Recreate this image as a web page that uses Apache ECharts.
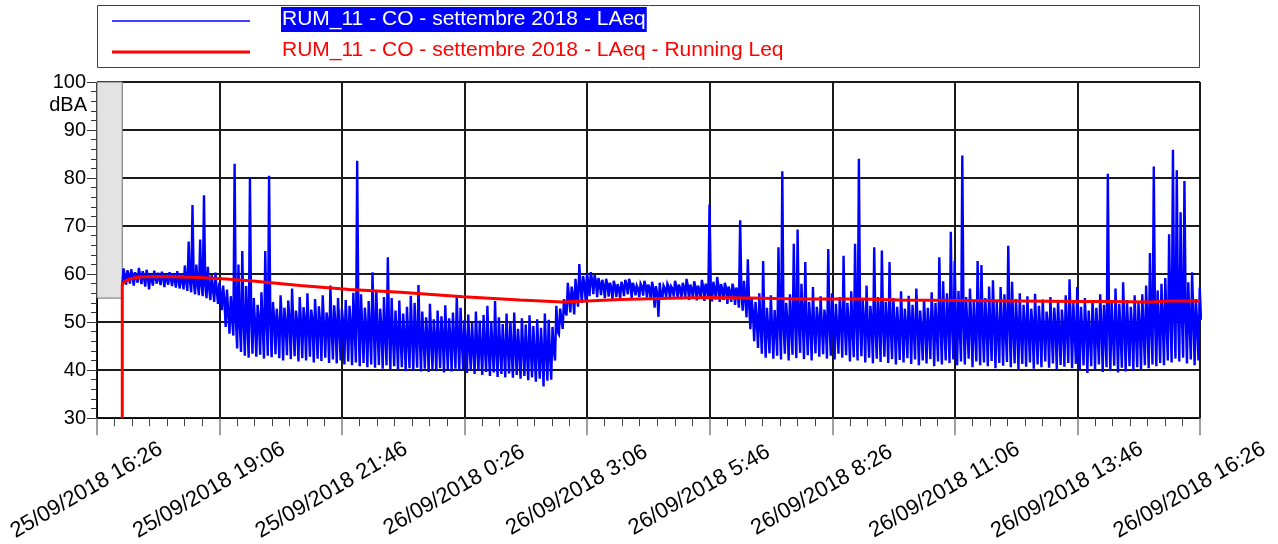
<!DOCTYPE html>
<html><head><meta charset="utf-8">
<script src="https://cdn.jsdelivr.net/npm/echarts@6/dist/echarts.min.js"></script>
<style>html,body{margin:0;padding:0;background:#fff}#c{width:1278px;height:544px}</style>
</head><body><div id="c"></div>
<script>
// ---- tick labels ----
const xTickLabels = ['25/09/2018 16:26','25/09/2018 19:06','25/09/2018 21:46','26/09/2018 0:26','26/09/2018 3:06',
  '26/09/2018 5:46','26/09/2018 8:26','26/09/2018 11:06','26/09/2018 13:46','26/09/2018 16:26'];
const seriesNames = ['RUM_11 - CO - settembre 2018 - LAeq', 'RUM_11 - CO - settembre 2018 - LAeq - Running Leq'];
const yUnit = 'dBA';

// ---- LAeq (minutes after 25/09 16:26, 5-minute buckets:
//      bucket minimum, bucket peak, top of the dense core) ----
const laeqStartMinute = 33;
const laeqStepMinutes = 5;
const laeqLow = [
 57.5,57.8,58.0,57.6,58.2,57.9,57.4,56.8,57.6,58.0,57.7,57.3,57.8,57.5,57.2,
 57.0,56.8,56.5,56.2,55.8,55.6,55.4,55.0,54.6,54.2,53.8,52.5,49.0,47.6,47.2,44.5,
 43.8,43.0,42.6,43.4,42.8,43.2,42.4,43.0,42.7,43.3,42.5,42.0,43.1,42.3,42.9,41.8,42.5,42.0,42.8,41.6,
 42.4,41.9,42.6,41.5,42.2,41.4,42.0,41.2,41.8,41.0,41.6,40.8,41.5,40.6,41.2,40.5,41.1,40.3,41.0,40.2,
 40.8,40.0,40.6,39.8,40.4,39.9,40.5,39.7,40.3,39.6,40.2,39.8,40.4,39.5,40.1,39.7,40.3,39.9,40.2,
 39.4,40.0,39.2,39.8,39.0,39.6,38.8,39.5,38.6,39.2,38.5,39.3,38.4,39.0,38.2,38.8,37.9,38.5,37.6,38.2,36.6,37.8,38.0,
 42.0,47.5,48.6,51.4,52.0,51.6,53.2,54.0,54.5,55.4,55.8,55.2,55.6,55.0,55.3,54.8,55.2,55.0,55.4,55.8,
 55.0,55.6,55.2,55.5,55.1,54.6,53.0,51.1,54.8,55.2,54.9,55.3,55.0,
 54.8,55.2,54.6,55.0,54.5,54.9,54.4,54.8,54.3,54.7,54.2,54.6,53.8,54.2,53.6,53.0,52.4,51.0,48.5,46.0,44.6,43.4,42.6,43.5,42.4,
 43.0,42.2,43.4,42.0,43.2,42.5,43.6,42.3,43.1,42.0,43.5,42.8,43.3,42.4,43.0,42.2,43.4,42.6,43.1,41.8,42.7,42.0,42.9,41.6,42.6,41.4,42.4,41.7,42.8,41.5,
 42.3,41.2,42.1,41.6,42.5,41.3,42.2,41.0,42.0,41.4,42.3,40.8,41.8,41.2,42.0,41.5,42.2,41.0,41.8,41.2,42.4,40.6,41.8,41.0,
 41.6,40.8,41.9,40.4,41.5,40.9,41.7,40.6,41.4,40.2,41.3,40.7,41.6,40.3,41.2,40.6,41.8,40.5,41.4,40.2,41.1,40.7,41.5,40.4,41.3,40.0,
 41.0,39.4,40.8,40.1,41.2,39.6,40.6,39.8,40.9,39.5,40.5,39.7,40.8,39.9,40.6,40.1,41.0,40.4,41.2,40.8,41.5,41.0,42.0,41.6,42.4,41.8,42.6,41.4,42.2,41.0,42.0
];
const laeqHigh = [
 61.2,60.8,61.0,60.4,61.3,60.6,60.9,60.2,60.7,60.3,60.5,59.9,60.4,60.1,60.6,
 60.2,61.8,66.8,74.4,62.0,67.2,76.4,61.5,59.8,60.3,58.2,57.6,56.8,55.4,83.0,62.0,
 64.8,57.5,80.2,55.0,53.6,56.2,64.8,80.5,54.2,52.8,55.6,53.0,54.5,57.0,52.4,55.2,53.1,56.0,52.6,54.8,
 53.3,55.6,52.0,57.6,53.5,55.0,52.8,54.6,53.4,56.1,83.6,55.8,53.0,54.4,60.4,56.6,52.8,55.2,63.5,55.0,
 52.4,54.5,51.8,53.2,55.5,54.0,57.7,52.2,51.0,53.8,50.6,52.4,51.2,53.5,50.8,52.0,55.3,53.0,50.4,
 51.6,49.8,52.2,50.3,51.5,53.4,50.0,54.4,51.0,49.6,51.8,50.2,52.0,48.6,50.8,49.5,51.4,49.2,50.6,48.8,51.8,50.5,49.0,
 53.4,52.8,54.8,58.2,57.4,59.0,62.1,59.6,60.2,60.4,59.8,59.2,58.8,59.0,58.2,58.6,57.9,58.4,58.8,59.0,
 58.2,57.6,58.0,58.6,57.8,58.4,57.5,58.2,57.6,58.0,57.4,58.6,57.8,
 58.2,59.0,57.8,58.5,57.6,58.8,58.0,74.5,58.4,59.4,57.9,58.2,57.4,58.0,57.2,71.2,58.6,63.1,55.0,54.2,56.0,62.7,53.0,55.6,52.5,
 65.6,81.4,54.0,55.8,66.3,69.3,58.0,62.5,54.2,57.3,53.2,55.4,52.6,65.2,56.0,53.8,55.2,63.8,54.0,56.4,66.3,84.0,54.6,57.6,53.4,65.6,55.2,64.9,54.2,62.5,
 55.0,53.2,56.4,52.8,55.5,53.6,57.0,52.4,54.8,53.0,56.2,54.0,63.5,58.5,56.0,68.8,62.8,56.5,84.7,55.2,57.0,54.6,62.7,61.9,
 55.0,57.4,58.7,54.2,57.3,55.8,65.9,58.4,54.8,56.0,53.6,55.4,52.8,55.9,53.4,54.7,52.2,55.2,53.0,54.4,52.6,55.6,58.9,54.0,57.3,53.2,
 55.0,52.4,54.6,53.0,55.8,53.6,80.9,54.2,57.0,53.8,58.3,54.6,53.2,55.6,54.0,55.8,57.6,64.4,82.4,56.6,58.0,59.2,68.3,85.9,81.6,72.9,79.4,58.3,60.4,54.8,57.2
];
const laeqCore = [
 59.4,59.8,59.5,59.2,59.7,59.3,59.6,59.0,59.4,59.1,59.5,58.9,59.3,59.0,58.8,
 58.8,58.6,58.5,58.2,58.0,57.8,57.6,57.2,57.0,56.6,56.0,54.5,52.0,51.0,50.5,50.0,
 50.2,49.6,50.4,49.8,50.6,49.5,50.3,49.9,50.8,49.4,50.1,49.7,50.5,49.3,50.0,49.6,50.2,49.4,50.4,49.2,
 49.9,49.3,50.1,49.0,49.7,49.2,49.8,48.9,49.5,48.8,49.4,48.6,49.2,48.4,48.9,48.2,48.6,47.8,48.0,47.4,
 47.6,47.0,47.4,46.8,47.3,46.6,47.2,46.7,47.0,46.4,46.9,46.5,47.1,46.3,46.8,46.2,46.6,46.0,45.8,
 45.2,44.6,45.0,44.4,45.1,44.5,44.8,44.2,45.0,44.3,44.7,44.1,44.9,44.0,44.6,43.8,44.4,43.6,44.2,43.5,44.0,43.6,44.2,
 48.0,50.5,52.0,55.0,55.6,56.0,57.4,57.8,58.4,58.8,58.5,58.0,57.6,57.9,57.2,57.5,57.0,57.4,57.8,58.0,
 57.2,57.0,57.4,57.6,57.1,57.0,56.0,55.5,57.0,57.4,56.9,57.5,57.0,
 57.2,57.6,56.9,57.3,56.8,57.4,57.0,57.2,56.8,57.5,56.9,57.1,56.4,56.8,56.2,55.8,55.0,54.0,52.0,50.5,49.6,49.0,48.6,49.2,48.5,
 49.6,48.8,50.2,49.0,50.4,49.3,50.6,49.1,50.0,48.9,50.5,49.4,50.1,49.0,50.3,48.8,50.2,49.2,49.9,48.6,50.0,49.1,50.4,48.7,49.8,48.5,50.1,48.9,49.7,48.6,
 50.0,48.8,49.6,49.0,50.2,48.7,49.8,48.5,49.5,48.9,50.1,48.4,49.6,48.8,49.9,49.0,50.2,48.6,49.5,48.7,50.0,48.3,49.4,48.6,
 49.7,48.5,49.8,48.2,49.4,48.6,50.0,48.4,49.3,48.1,49.6,48.5,49.5,48.0,49.2,48.4,49.7,48.2,49.3,48.0,49.1,48.5,49.6,48.2,49.2,47.8,
 49.0,47.6,48.8,48.0,49.2,47.7,48.8,47.9,49.1,47.6,48.9,48.0,49.0,48.2,49.3,48.5,49.6,49.0,50.0,49.5,50.4,50.0,51.5,51.0,52.0,51.2,51.8,50.2,50.8,49.6,50.5
];

// ---- Running Leq ----
const runMinutes = [33,33,35,40,48,56,82,134,174,200,265,330,396,478,552,608,640,683,761,800,852,918,996,1048,1127,1205,1279,1322,1375,1401,1440];
const runValues  = [30,57.8,58.3,58.8,59.2,59.4,59.5,59.3,58.9,58.6,57.6,56.8,56.2,55.3,54.6,54.2,54.4,54.7,55.0,55.1,55.0,54.8,54.8,54.6,54.5,54.4,54.3,54.3,54.2,54.4,54.4];

// ---- no-data zone (minutes) and its level ----
const blankZone = [0, 33];
const blankLevel = [55, 100];

const laeqData = [];
laeqLow.forEach((lo, i) => {
  const t = laeqStartMinute + laeqStepMinutes * i;
  laeqData.push([t, lo]);
  laeqData.push([t + laeqStepMinutes / 3, laeqHigh[i]]);
  laeqData.push([t + 2 * laeqStepMinutes / 3, laeqCore[i]]);
});
const runData = runMinutes.map((m, i) => [m, runValues[i]]);

const FONT = '"Liberation Sans", Arial, sans-serif';
const chart = echarts.init(document.getElementById('c'), null, {renderer: 'canvas'});
chart.setOption({
  animation: false,
  backgroundColor: '#fff',
  grid: {left: 97, right: 78, top: 82, bottom: 124, containLabel: false},
  xAxis: {
    type: 'value', min: 0, max: 1440, interval: 160,
    axisLine: {show: true, lineStyle: {color: '#000', width: 1}},
    axisTick: {show: true, length: 17, lineStyle: {color: '#808080', width: 1.5}},
    minorTick: {show: true, splitNumber: 7, length: 8, lineStyle: {color: '#444', width: 1}},
    splitLine: {show: true, lineStyle: {color: '#1a1a1a', width: 2}},
    axisLabel: {
      rotate: 30, align: 'center', verticalAlign: 'middle', margin: 66,
      padding: [0, 24, 0, 0], fontSize: 22, color: '#000', fontFamily: FONT,
      showMinLabel: true, showMaxLabel: true,
      formatter: v => xTickLabels[Math.round(v / 160)]
    }
  },
  yAxis: {
    type: 'value', min: 30, max: 100, interval: 10,
    axisLine: {show: true, lineStyle: {color: '#000', width: 1}},
    axisTick: {show: true, length: 10, lineStyle: {color: '#333', width: 1}},
    minorTick: {show: true, splitNumber: 5, length: 6, lineStyle: {color: '#333', width: 1}},
    splitLine: {show: true, lineStyle: {color: '#1a1a1a', width: 2}},
    axisLabel: {fontSize: 20, color: '#000', margin: 11, fontFamily: FONT}
  },
  graphic: [
    {type: 'rect', shape: {x: 97.5, y: 5.5, width: 1102, height: 62}, style: {fill: '#fff', stroke: '#404040', lineWidth: 1}},
    {type: 'line', shape: {x1: 112, y1: 21, x2: 250, y2: 21}, style: {stroke: '#0000ff', lineWidth: 1.5}},
    {type: 'line', shape: {x1: 112, y1: 52, x2: 250, y2: 52}, style: {stroke: '#ff0000', lineWidth: 3}},
    {type: 'text', x: 281, y: 19.5, style: {text: seriesNames[0], fill: '#fff', backgroundColor: '#0000ff',
      font: '21px ' + FONT, verticalAlign: 'middle', align: 'left', padding: [2, 1, 2, 1]}},
    {type: 'text', x: 282, y: 50.5, style: {text: seriesNames[1], fill: '#ff0000',
      font: '21px ' + FONT, verticalAlign: 'middle', align: 'left'}},
    {type: 'text', x: 87, y: 105, style: {text: yUnit, fill: '#000', font: '20px ' + FONT, align: 'right', verticalAlign: 'middle'}}
  ],
  series: [
    {
      name: seriesNames[0], type: 'line', data: laeqData, showSymbol: false, symbol: 'none',
      lineStyle: {color: '#0000ff', width: 2.4, join: 'miter', miterLimit: 4}, itemStyle: {color: '#0000ff'}, sampling: null,
      markArea: {
        silent: true,
        itemStyle: {color: '#e3e3e3', borderColor: '#707070', borderWidth: 1},
        data: [[{xAxis: blankZone[0], yAxis: blankLevel[0]}, {xAxis: blankZone[1], yAxis: blankLevel[1]}]]
      }
    },
    {
      name: seriesNames[1], type: 'line', data: runData, showSymbol: false, symbol: 'none',
      lineStyle: {color: '#ff0000', width: 3}, itemStyle: {color: '#ff0000'}
    }
  ]
});
</script>
</body></html>
